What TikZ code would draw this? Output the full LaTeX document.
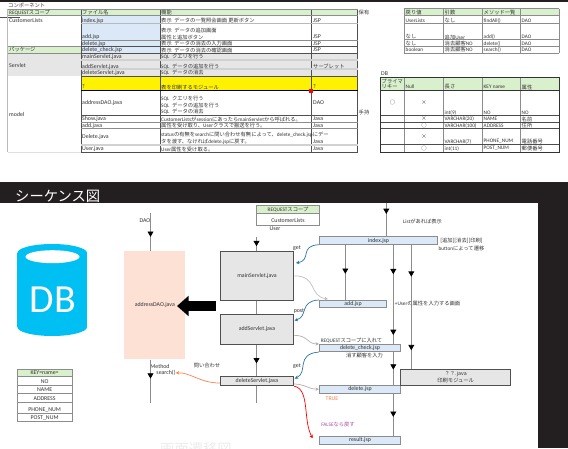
\documentclass[tikz,border=0pt]{standalone}
\usepackage{fontspec}
\setmainfont{Noto Sans CJK JP}
\newfontfamily\dbfont{Carlito}
\newcommand{\lat}[1]{{\dbfont #1}}
\usepackage{xcolor}
\usetikzlibrary{positioning,arrows.meta,calc,decorations.markings}
\definecolor{DarkBand}{HTML}{231F20}
\definecolor{HeadGreen}{HTML}{D8F0CC}
\definecolor{JspBlue}{HTML}{DAE8F7}
\definecolor{SoftGrey}{HTML}{E6E6E6}
\definecolor{LineGrey}{HTML}{8C8C8C}
\definecolor{RuleDark}{HTML}{505050}
\definecolor{DaoPeach}{HTML}{FCE1D4}
\definecolor{DbCyan}{HTML}{00BFF3}
\definecolor{CallBlue}{HTML}{2E75A6}
\definecolor{CallOrange}{HTML}{F4854F}
\definecolor{FalsePurple}{HTML}{A64CA6}
\tikzset{
  cell/.style={font=\fontsize{4.5}{5.5}\selectfont,text=black!80,inner sep=0pt,anchor=west},
  midcell/.style={cell,anchor=center},
  latcell/.style={cell,font=\dbfont\fontsize{5}{6}\selectfont},
  midlat/.style={latcell,anchor=center},
  jspbox/.style={draw=LineGrey,fill=JspBlue,line width=.6pt,inner sep=0pt,font=\dbfont\fontsize{5}{6}\selectfont,text=black!80},
  servletbox/.style={draw=RuleDark,fill=SoftGrey,line width=.8pt,inner sep=0pt,align=center,font=\dbfont\fontsize{5}{6}\selectfont,text=black!80},
  lifeline/.style={LineGrey,line width=.7pt},
  midtip/.style={postaction={decorate,decoration={markings,mark=at position #1 with {\arrow{Triangle[color=black,width=5pt,length=4.5pt]}}}}},
  callarrow/.style={line width=.6pt,-{Stealth[length=3pt,width=3pt]}}
}
\begin{document}
\begin{tikzpicture}[x=0.03cm,y=-0.03cm]
\useasboundingbox (0,0) rectangle (568,448);
\fill[white] (0,0) rectangle (568,448);
\fill[DarkBand] (0,0) rectangle (568,1.5);
\fill[DarkBand] (0,182) rectangle (568,203);
\fill[DarkBand] (538,203) rectangle (568,448);
\node[font=\fontsize{12.2}{14}\selectfont,text=white,inner sep=0pt,anchor=west] (seqTitle) at (15,196) {シーケンス図};
\node[font=\fontsize{12.2}{14}\selectfont,text=black!7,inner sep=0pt,anchor=west] (ghostTitle) at (160,449) {画面遷移図};

\node[cell] (compTitle) at (8,5.8) {コンポーネント};
\draw[RuleDark,line width=.6pt] (0,17.3)--(20,17.3);
\fill[HeadGreen] (7.5,9) rectangle (357.7,15.5);
\fill[JspBlue] (81,15.5) rectangle (160,53);
\fill[HeadGreen] (7.5,46.5) rectangle (81,53);
\fill[SoftGrey] (7.5,53) rectangle (357.7,76);
\fill[yellow] (81,77) rectangle (357.7,90);
\fill[black!12] (7.5,151.5) rectangle (81,152.8);
\foreach \lx in {81,160,311,357.7}
  \draw[RuleDark,line width=.6pt] (\lx,9)--(\lx,152);
\draw[LineGrey!60,line width=.5pt] (7.5,9)--(7.5,152);
\foreach \ly/\lc/\lw in {23.5/LineGrey!60/.5,40/LineGrey/.5,46.5/RuleDark/.6,53/RuleDark/.7,60/LineGrey!40/1,69/LineGrey!40/1,76/RuleDark/.7,90/black/.7,115.5/RuleDark/.7,122/LineGrey/.6,128.5/LineGrey/.6,145/LineGrey!40/1,152/RuleDark/.8}
  \draw[\lc,line width=\lw pt] (81,\ly)--(357.7,\ly);
\foreach \ly in {9,15.5,46.5,53}
  \draw[LineGrey,line width=.6pt] (7.5,\ly)--(81,\ly);
\draw[LineGrey,line width=.6pt] (81,9)--(357.7,9);
\draw[LineGrey,line width=.6pt] (81,15.5)--(357.7,15.5);
\fill[red] (309.3,88.8) rectangle (313,92.5);

\foreach \px/\py/\txt in {9/12.2/\lat{REQUEST}スコープ,82/12.2/ファイル名,161/12.2/機能,9/49.6/パッケージ,
  161/20.5/表示\enspace データの一覧照会画面 更新ボタン,161/30/表示\enspace データの追加画面,161/37/属性と追加ボタン,161/43.5/表示\enspace データの消去の入力画面,161/50/表示\enspace データの消去の確認画面,161/57/\lat{SQL}\enspace クエリを行う,161/66.5/\lat{SQL}\enspace データの追加を行う,161/73/\lat{SQL}\enspace データの消去,161/87/表を印刷するモジュール,161/99/\lat{SQL}\enspace クエリを行う,161/105.8/\lat{SQL}\enspace データの追加を行う,161/112/\lat{SQL}\enspace データの消去,
  161/119/\lat{CustomerLists}が\lat{session}にあったら\lat{mainServlet}から呼ばれる。,161/125.5/属性を受け取り、\lat{User}クラスで搬送を行う。,161/135/\lat{status}の有無を\lat{search}に問い合わせ有無によって、\lat{delete\_check.jsp}にデー,161/142/タを渡す、なければ\lat{delete.jsp}に戻す。,161/149/\lat{User}属性を受け取る。,
  313/66.5/サーブレット,358.5/12.2/保有,358.5/112/手持}
  \node[cell] at (\px,\py) {\txt};
\foreach \px/\py/\txt in {9/20.5/CustomerLists,9/65/Servlet,9/114.5/model,82/20.5/index.jsp,82/37/add.jsp,82/43.5/delete.jsp,82/50/delete\_check.jsp,82/57/mainServlet.java,82/66.5/addServlet.java,82/73/deleteServlet.java,82/87/?,82/103/addressDAO.java,82/119/Show.java,82/125.5/add.java,82/137/Delete.java,82/149/User.java,
  313/20.5/JSP,313/37/JSP,313/43.5/JSP,313/50/JSP,313/87/?,313/103/DAO,313/119/Java,313/125.5/Java,313/142/Java,313/149/Java}
  \node[latcell] at (\px,\py) {\txt};

\fill[HeadGreen] (404.3,8.5) rectangle (559.3,15.5);
\foreach \lx in {404.3,443.3,482.3,520.3,559.3}
  \draw[LineGrey,line width=.6pt] (\lx,8.5)--(\lx,53);
\foreach \ly in {8.5,15.5,23.5,39.5,46,53}
  \draw[LineGrey,line width=.6pt] (404.3,\ly)--(559.3,\ly);
\foreach \px/\py/\txt in {405.5/12.2/戻り値,444.5/12.2/引数,483.5/12.2/メソッド一覧,405.5/20.5/\lat{UserLists},444.5/20.5/なし,483.5/20.5/\lat{findAll()},521.5/20.5/\lat{DAO},405.5/37/なし,444.5/37/追加\lat{User},483.5/37/\lat{add()},521.5/37/\lat{DAO},405.5/43.5/なし,444.5/43.5/消去顧客\lat{NO},483.5/43.5/\lat{delete()},521.5/43.5/\lat{DAO},405.5/50/\lat{boolean},444.5/50/消去顧客\lat{NO},483.5/50/\lat{search()},521.5/50/\lat{DAO}}
  \node[cell] at (\px,\py) {\txt};

\node[latcell] (dbTitle) at (381,73.5) {DB};
\fill[HeadGreen] (380.5,77.3) rectangle (559.3,90.3);
\foreach \lx in {404.3,443.3,482.3,520.3}
  \draw[LineGrey,line width=.5pt] (\lx,77.3)--(\lx,152);
\foreach \ly in {115.7,122.3,128.7,144.7}
  \draw[black!70,line width=.5pt] (380.5,\ly)--(559.3,\ly);
\draw[black!80,line width=.8pt] (380.5,77.3) rectangle (559.3,152);
\draw[black!80,line width=.7pt] (380.5,90.3)--(559.3,90.3);
\foreach \px/\py/\txt in {381.5/81/プライマ,381.5/86.8/リキー,405.5/87/\lat{Null},444.5/87/長さ,483.5/87/\lat{KEY name},521.5/87/属性,
  444.5/112.5/\lat{int(9)},483.5/112.5/\lat{NO},521.5/112.5/\lat{NO},444.5/119/\lat{VARCHAR(20)},483.5/119/\lat{NAME},521.5/119/名前,444.5/125.5/\lat{VARCHAR(100)},483.5/125.5/\lat{ADDRESS},521.5/125.5/住所,444.5/141.5/\lat{VARCHAR(7)},483.5/141.5/\lat{PHONE\_NUM},521.5/141.5/電話番号,444.5/148.5/\lat{int(11)},483.5/148.5/\lat{POST\_NUM},521.5/148.5/郵便番号}
  \node[cell] at (\px,\py) {\txt};
\foreach \px/\py/\txt in {392.5/102.5/○,424/102.5/×,424/119/×,424/125.7/○,424/136.5/×,424/148.7/○}
  \node[midcell] at (\px,\py) {\txt};

\fill[DbCyan] (52.2,253) ellipse [x radius=1.045cm,y radius=.27cm];
\fill[DbCyan] (17.3,253) rectangle (87,327);
\fill[DbCyan] (52.2,327) ellipse [x radius=1.045cm,y radius=.27cm];
\fill[white] (52.5,256.7) ellipse [x radius=.81cm,y radius=.195cm];
\node[font=\dbfont\fontsize{34}{36}\selectfont,text=white,inner sep=0pt] (dbLabel) at (53,300) {DB};

\fill[HeadGreen] (17.3,369.3) rectangle (72,376);
\foreach \ly in {369.3,376,385.7,393,402.5,413.5,421.5}
  \draw[LineGrey,line width=.6pt] (17.3,\ly)--(72,\ly);
\draw[LineGrey,line width=.6pt] (17.3,369.3)--(17.3,421.5);
\draw[LineGrey,line width=.6pt] (72,369.3)--(72,421.5);
\foreach \py/\txt in {372.7/KEY=name=,382/NO,389.5/NAME,399/ADDRESS,409.5/PHONE\_NUM,418/POST\_NUM}
  \node[midlat] at (44.6,\py) {\txt};

\node[fill=DaoPeach,minimum width=1.82cm,minimum height=3.25cm,inner sep=0pt,font=\dbfont\fontsize{5}{6}\selectfont,text=black!80] (addressDAO) at (154.8,305.2) {addressDAO.java};
\node[servletbox,minimum width=2.2cm,minimum height=1.49cm] (mainServlet) at (257,275.85) {mainServlet.java};
\node[servletbox,minimum width=2.2cm,minimum height=.9cm] (addServlet) at (257,329.3) {addServlet.java};
\node[servletbox,minimum width=2.2cm,minimum height=.28cm] (deleteServlet) at (257,381) {deleteServlet.java};
\node[jspbox,minimum width=3.55cm,minimum height=.23cm] (indexJsp) at (378.5,240.5) {index.jsp};
\node[jspbox,minimum width=2.02cm,minimum height=.22cm] (addJsp) at (353,304) {add.jsp};
\node[jspbox,minimum width=2.44cm,minimum height=.22cm] (deleteCheck) at (360,348) {delete\_check.jsp};
\node[jspbox,minimum width=2.44cm,minimum height=.22cm] (deleteJsp) at (360,389.2) {delete.jsp};
\node[jspbox,minimum width=2.44cm,minimum height=.22cm] (resultJsp) at (360,440.2) {result.jsp};
\node[servletbox,minimum width=3.3cm,minimum height=.49cm,font=\fontsize{4.5}{6}\selectfont] (printJava) at (455.7,377.5) {？？.java\\印刷モジュール};

\fill[HeadGreen] (256.7,205) rectangle (319.3,213.3);
\draw[LineGrey,line width=.6pt] (256.7,205) rectangle (319.3,225);
\draw[LineGrey,line width=.6pt] (256.7,213.3)--(319.3,213.3);
\foreach \px/\py/\txt in {288/209.2/\lat{REQUEST}スコープ,207/365.7/問い合わせ,422.5/221/\lat{List}があれば表示,351.5/340.5/\lat{REQUEST}スコープに入れて,364.5/355.5/消す顧客を入力,461.5/240.5/[追加][消去][印刷],461.5/248/\lat{button}によって遷移,427.5/303.7/\lat{+User}の属性を入力する画面}
  \node[midcell] at (\px,\py) {\txt};
\foreach \px/\py/\txt in {288/221/CustomerLists,275/229/User,145/221/DAO,297/248/get,299/311.5/post,297/366/get,160/366/Method}
  \node[midlat] at (\px,\py) {\txt};
\node[midlat] (searchCall) at (166,373) {search()};
\node[midlat,text=CallOrange] (trueLabel) at (332,399) {TRUE};
\node[midcell,text=FalsePurple] (falseLabel) at (338,425) {\lat{FALSE}なら戻す};

\coordinate (daoTop) at (150.5,213);
\coordinate (daoEnd) at (150.5,402.7);
\coordinate (userTop) at (256.5,237);
\coordinate (servletEnd) at (256.5,402.7);
\coordinate (listTop) at (386.3,203);
\coordinate (addTop) at (345.3,244.3);
\coordinate (checkTop) at (393.3,244.3);
\coordinate (printTop) at (411.3,244.3);
\draw[lifeline,midtip=.63] (daoTop)--(daoTop |- addressDAO.north);
\draw[lifeline,midtip=.44] (daoTop |- addressDAO.south)--(daoEnd);
\draw[lifeline,midtip=.68] (userTop)--(userTop |- mainServlet.north);
\draw[lifeline] (userTop |- mainServlet.south)--(userTop |- addServlet.north);
\draw[lifeline,midtip=.6] (userTop |- addServlet.south)--(userTop |- deleteServlet.north);
\draw[lifeline] (userTop |- deleteServlet.south)--(servletEnd);
\draw[lifeline,midtip=.33] (listTop)--(listTop |- indexJsp.north);
\draw[lifeline,midtip=.53] (addTop)--(addTop |- addJsp.north);
\draw[lifeline,midtip=.3,midtip=.91] (checkTop)--(checkTop |- deleteCheck.north);
\draw[lifeline,midtip=.53] (checkTop |- deleteCheck.south)--(checkTop |- deleteJsp.north);
\draw[lifeline,midtip=.55] (checkTop |- deleteJsp.south)--(checkTop |- resultJsp.north);
\draw[lifeline,midtip=.26,midtip=.85] (printTop)--(printTop |- printJava.north);

\coordinate (bigTail) at (216,306);
\coordinate (bigTip) at (177,306);
\draw[black,line width=8.5pt,-{Triangle[length=10pt,width=17pt]}] (bigTail)--(bigTip);

\coordinate (getMain) at (296,263);
\coordinate (postAdd) at (294.5,320.5);
\coordinate (getDelete) at (294.7,378.5);
\coordinate (falseEnd) at (312.7,438.3);
\coordinate (grayAddEnd) at (328,299);
\draw[CallBlue,callarrow] (indexJsp.south west) .. controls +(-20,1) and +(16,-3) .. (getMain);
\draw[CallBlue,callarrow] (addJsp.north west) .. controls +(-20,1) and +(14,-4) .. (postAdd);
\draw[CallBlue,callarrow] (deleteCheck.south west) .. controls +(-24,2) and +(14,-6) .. (getDelete);
\draw[black!25,callarrow] (mainServlet.east) .. controls +(24,0) and +(-20,-3) .. (grayAddEnd);
\draw[black!30,callarrow] ([yshift=-.18cm]addServlet.east) .. controls +(14,0) and +(-12,0) .. (deleteCheck.north west);
\draw[black!30,callarrow] ([yshift=-.09cm]deleteServlet.east) .. controls +(10,0) and +(-10,0) .. (deleteJsp.west);
\draw[CallOrange,callarrow] ([yshift=-.06cm]deleteServlet.west) .. controls +(-20,0) and +(14,-1) .. (searchCall.east);
\draw[red,callarrow] (deleteServlet.south east) .. controls +(16,3) and +(-10,-18) .. (falseEnd);
\end{tikzpicture}
\end{document}
